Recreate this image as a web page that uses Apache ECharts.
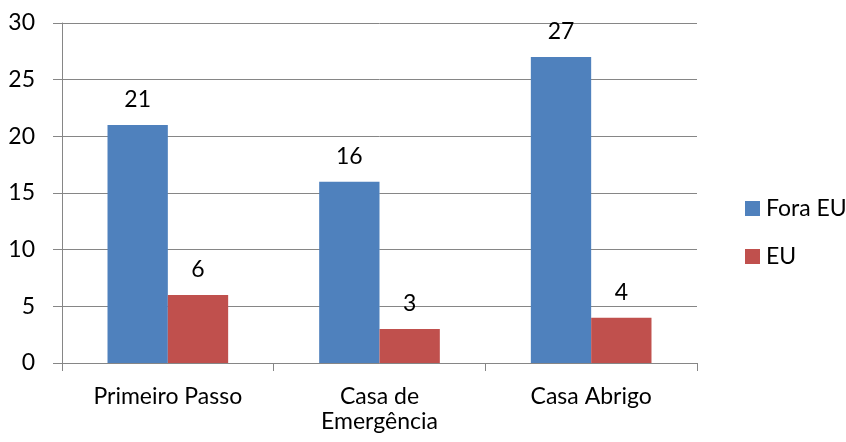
<!DOCTYPE html>
<html>
<head>
<meta charset="utf-8">
<script src="https://cdn.jsdelivr.net/npm/echarts@6/dist/echarts.min.js"></script>
<style>html,body{margin:0;padding:0;background:#fff}#c{width:846px;height:442px}</style>
</head>
<body>
<div id="c"></div>
<script>
const categories = ['Primeiro Passo', 'Casa de Emergência', 'Casa Abrigo'];
const foraEU = [21, 16, 27];
const eu = [6, 3, 4];
const seriesNames = ['Fora EU', 'EU'];
const yMin = 0, yMax = 30, yInterval = 5;

const font = 'Lato, Carlito, Calibri, sans-serif';
const fs = 23;
const chart = echarts.init(document.getElementById('c'), null, {renderer: 'canvas'});
chart.setOption({
  animation: false,
  textStyle: {fontFamily: font},
  grid: {left: 62, right: 149, top: 23, bottom: 79, containLabel: false},
  legend: {
    orient: 'vertical', left: 740, top: 192,
    itemWidth: 15, itemHeight: 15, itemGap: 25,
    icon: 'rect',
    textStyle: {fontFamily: font, fontSize: fs, color: '#000', padding: [0, 0, 0, 1]},
    data: seriesNames
  },
  xAxis: {
    type: 'category', data: categories,
    axisLine: {lineStyle: {color: '#868686', width: 1}},
    axisTick: {show: true, length: 8, lineStyle: {color: '#868686', width: 1}},
    axisLabel: {
      fontFamily: font, fontSize: fs, color: '#000', margin: 21, lineHeight: 25,
      formatter: v => v.replace('Casa de ', 'Casa de\n')
    }
  },
  yAxis: {
    type: 'value', min: yMin, max: yMax, interval: yInterval,
    axisLine: {show: true, lineStyle: {color: '#868686', width: 1}},
    axisTick: {show: true, length: 9, lineStyle: {color: '#868686'}},
    splitLine: {lineStyle: {color: '#868686', width: 1}},
    axisLabel: {fontFamily: font, fontSize: fs, color: '#000', margin: 27}
  },
  series: [
    {
      name: seriesNames[0], type: 'bar', data: foraEU, barGap: '0%', barCategoryGap: '43%',
      itemStyle: {color: '#4F81BD'},
      label: {show: true, position: 'top', distance: 14, fontFamily: font, fontSize: fs, color: '#000'}
    },
    {
      name: seriesNames[1], type: 'bar', data: eu, barGap: '0%', barCategoryGap: '43%',
      itemStyle: {color: '#C0504D'},
      label: {show: true, position: 'top', distance: 14, fontFamily: font, fontSize: fs, color: '#000'}
    }
  ]
});
</script>
</body>
</html>
